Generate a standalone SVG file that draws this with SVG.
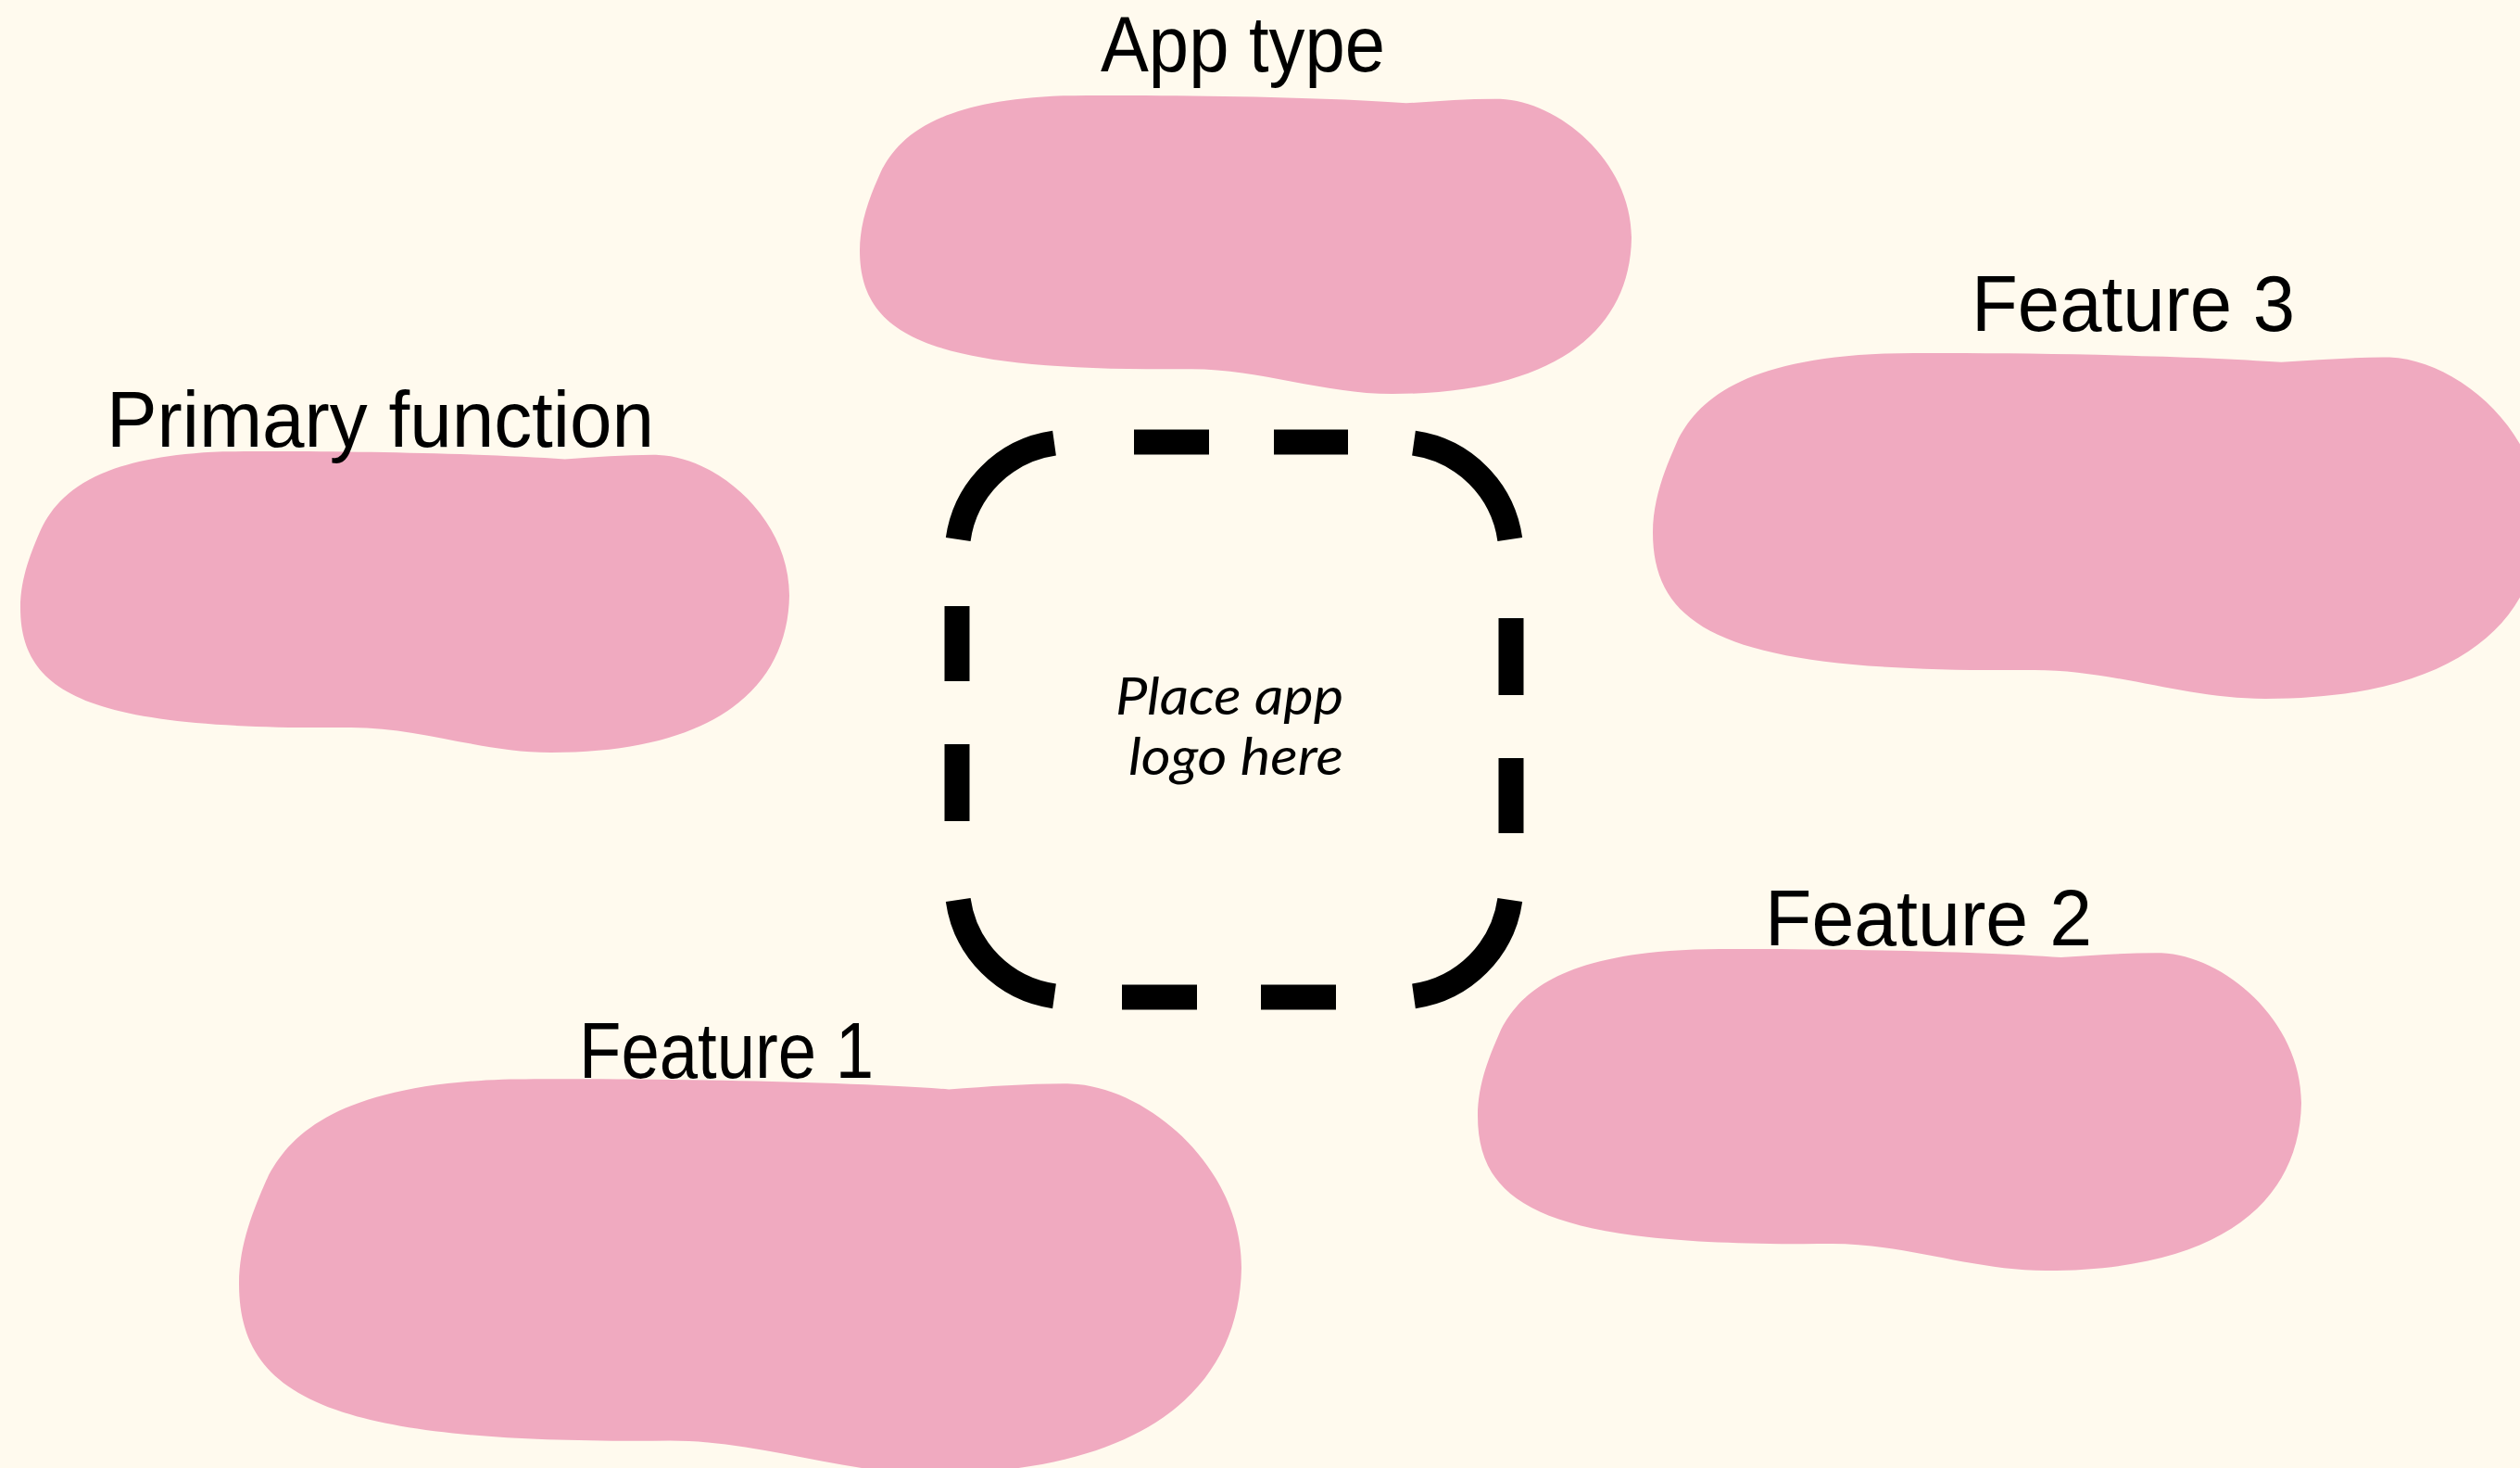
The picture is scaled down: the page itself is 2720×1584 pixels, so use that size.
<svg xmlns="http://www.w3.org/2000/svg" xmlns:xlink="http://www.w3.org/1999/xlink" width="2720" height="1584" viewBox="0 0 2720 1584">
  <style>
    .blob { fill: #F0AAC0; }
    .label { font-family: "Liberation Sans", "DejaVu Sans", sans-serif; font-size: 86px; fill: #000; }
    .hint { font-family: "Lato", "Noto Sans", sans-serif; font-style: italic; font-size: 56px; fill: #000; }
    .frame { fill: none; stroke: #000; stroke-width: 27; stroke-linecap: butt; }
  </style>
  <defs>
    <!-- blob outline drawn in a 1000 x 1000 box, scaled per node -->
    <path id="blob" d="M 263,4 C 380,0 600,8 708,29 C 750,22 790,14 830,15 C 905,22 1000,223 1000,480 C 998,790 900,1000 690,1000 C 600,1000 520,917 430,917 C 100,925 0,820 0,520 C 0,420 15,330 27,260 C 50,140 100,20 263,4 Z"/>
  </defs>

  <rect width="2720" height="1584" fill="#FFFAEE"/>

  <g id="app-type">
    <use xlink:href="#blob" class="blob" transform="translate(928,102) scale(0.833,0.323)"/>
    <text class="label" x="1188" y="77" textLength="307" lengthAdjust="spacingAndGlyphs">App type</text>
  </g>

  <g id="primary-function">
    <use xlink:href="#blob" class="blob" transform="translate(22,486) scale(0.830,0.326)"/>
    <text class="label" x="115" y="482" textLength="591" lengthAdjust="spacingAndGlyphs">Primary function</text>
  </g>

  <g id="feature-3">
    <use xlink:href="#blob" class="blob" transform="translate(1784,380) scale(0.958,0.374)"/>
    <text class="label" x="2128" y="357" textLength="349" lengthAdjust="spacingAndGlyphs">Feature 3</text>
  </g>

  <g id="feature-2">
    <use xlink:href="#blob" class="blob" transform="translate(1595,1023) scale(0.889,0.348)"/>
    <text class="label" x="1905" y="1020" textLength="353" lengthAdjust="spacingAndGlyphs">Feature 2</text>
  </g>

  <g id="feature-1">
    <use xlink:href="#blob" class="blob" transform="translate(258,1163) scale(1.082,0.427)"/>
    <text class="label" x="625" y="1163" textLength="318" lengthAdjust="spacingAndGlyphs">Feature 1</text>
  </g>

  <!-- dashed rounded frame for the logo -->
  <g id="logo-placeholder">
    <g class="frame">
      <path d="M 1034.2,582 A 122,122 0 0 1 1138,478.2"/>
      <path d="M 1526,478.2 A 122,122 0 0 1 1629.8,582"/>
      <path d="M 1629.8,971 A 122,122 0 0 1 1526,1074.8"/>
      <path d="M 1138,1074.8 A 122,122 0 0 1 1034.2,971"/>
      <line x1="1224" y1="477" x2="1305" y2="477"/>
      <line x1="1375" y1="477" x2="1455" y2="477"/>
      <line x1="1211" y1="1076" x2="1292" y2="1076"/>
      <line x1="1361" y1="1076" x2="1442" y2="1076"/>
      <line x1="1033" y1="654" x2="1033" y2="735"/>
      <line x1="1033" y1="803" x2="1033" y2="886"/>
      <line x1="1631" y1="667" x2="1631" y2="750"/>
      <line x1="1631" y1="818" x2="1631" y2="899"/>
    </g>
    <text class="hint" x="1204" y="771" textLength="246" lengthAdjust="spacingAndGlyphs">Place app</text>
    <text class="hint" x="1218" y="836" textLength="232" lengthAdjust="spacingAndGlyphs">logo here</text>
  </g>
</svg>
